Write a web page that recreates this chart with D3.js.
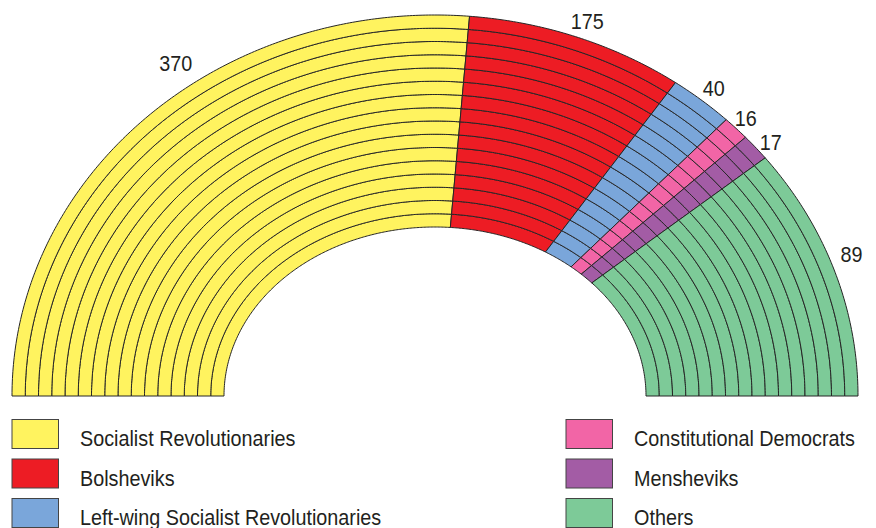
<!DOCTYPE html>
<html>
<head>
<meta charset="utf-8">
<script src="https://cdn.jsdelivr.net/npm/d3@7"></script>
<style>
  html, body { margin: 0; padding: 0; background: #fff; }
  svg { display: block; }
  text { font-family: "Liberation Sans", Arial, sans-serif; fill: #231f20; }
</style>
</head>
<body>
<svg id="chart" width="876" height="528"></svg>
<script>
// ---- data ----
const parties = ["Socialist Revolutionaries", "Bolsheviks", "Left-wing Socialist Revolutionaries",
                 "Constitutional Democrats", "Mensheviks", "Others"];
const seats = [370, 175, 40, 16, 17, 89];
// angular size of each wedge as drawn in the picture (degrees of the half ring)
const wedgeDegrees = [95.2, 32.3, 9.0, 3.7, 4.0, 35.8];
const colors = ["#fff35f", "#ed1c24", "#7aa6da", "#f265a6", "#a35ca5", "#7dca98"];
const ringCount = 16;
// label placement (polar, degrees from +x axis, distance from centre)
const labelAngle = [127.9, 67.9, 47.8, 41.8, 37.1, 18.8];
const labelRadius = [422, 405, 415, 417, 421, 440];
// legend order: left column then right column
const legendCols = [[0, 1, 2], [3, 4, 5]];

// ---- layout ----
const cx = 435, cy = 396;
const innerRx = 211, innerRy = 169, ringW = 13.25;
const svg = d3.select("#chart");

const totalDeg = d3.sum(wedgeDegrees);
const cum = d3.cumsum(wedgeDegrees);
const angle = d3.scaleLinear().domain([0, totalDeg]).range([Math.PI, 0]);
const ring = d3.scaleLinear().domain([0, ringCount]).range([0, ringCount * ringW]);

function pt(theta, k) {
  const a = innerRx + ring(k), b = innerRy + ring(k);
  const c = Math.cos(theta), s = Math.sin(theta);
  const r = a * b / Math.sqrt((b * c) * (b * c) + (a * s) * (a * s));
  return [cx + r * c, cy - r * s];
}
function cellPath(d) {
  const n = Math.max(4, Math.ceil(Math.abs(d.a1 - d.a0) * 120));
  const ts = d3.range(n + 1).map(j => d.a0 + (d.a1 - d.a0) * j / n);
  const outer = ts.map(t => pt(t, d.k + 1));
  const inner = ts.slice().reverse().map(t => pt(t, d.k));
  return d3.line()(outer.concat(inner)) + "Z";
}

const cells = [];
wedgeDegrees.forEach((w, i) => {
  const a0 = angle(i === 0 ? 0 : cum[i - 1]);
  const a1 = angle(cum[i]);
  d3.range(ringCount).forEach(k => cells.push({ i, k, a0, a1 }));
});

svg.append("g").selectAll("path.cell").data(cells).join("path")
  .attr("class", "cell")
  .attr("d", cellPath)
  .attr("fill", d => colors[d.i])
  .attr("stroke", "#262626")
  .attr("stroke-width", 1)
  .attr("stroke-linejoin", "round");

// value labels
const sx = 0.9;
svg.append("g").selectAll("text").data(seats).join("text")
  .attr("transform", (d, i) => {
    const t = labelAngle[i] * Math.PI / 180;
    return `translate(${cx + labelRadius[i] * Math.cos(t)},${cy - labelRadius[i] * Math.sin(t)}) scale(${sx},1)`;
  })
  .attr("text-anchor", "middle")
  .attr("dy", "0.36em")
  .attr("font-size", 22)
  .text(d => d);

// legend
const colX = [12, 566], textX = [80, 634];
const rowY = d3.scaleLinear().domain([0, 1]).range([419.5, 459]);
legendCols.forEach((col, c) => {
  const lg = svg.append("g");
  col.forEach((pi, r) => {
    lg.append("rect")
      .attr("x", colX[c]).attr("y", rowY(r))
      .attr("width", 46.5).attr("height", 29)
      .attr("fill", colors[pi]).attr("stroke", "#444").attr("stroke-width", 1);
    lg.append("text")
      .attr("transform", `translate(${textX[c]},${rowY(r) + 26.5}) scale(${sx},1)`)
      .attr("font-size", 22)
      .text(parties[pi]);
  });
});
</script>
</body>
</html>
